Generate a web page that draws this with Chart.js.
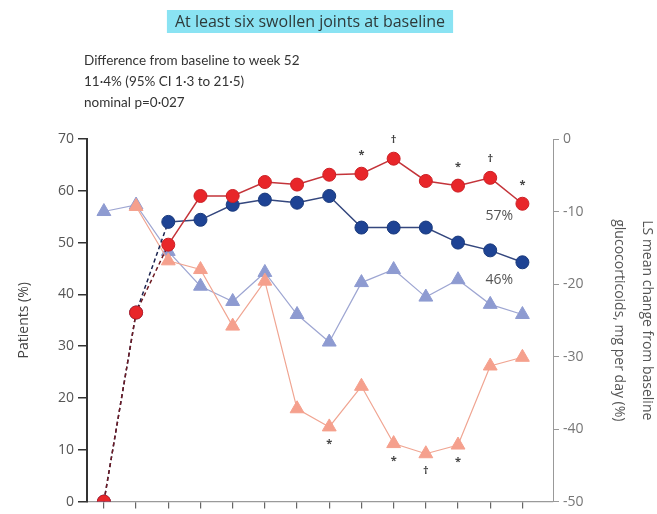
<!DOCTYPE html>
<html><head><meta charset="utf-8">
<style>html,body{margin:0;padding:0;background:#fff}#wrap{width:657px;height:514px;position:relative}</style>
<script src="https://cdn.jsdelivr.net/npm/chart.js@4.4.1/dist/chart.umd.min.js"></script>
</head><body><div id="wrap"><canvas id="c" width="657" height="514"></canvas></div>
<script>
const weeks = [0,4,8,12,16,20,24,28,32,36,40,44,48,52];
const redCircles = [0,36.5,49.6,59,59,61.7,61.2,63.1,63.3,66.2,61.9,61,62.5,57.5];
const blueCircles = [0,36.5,54,54.4,57.3,58.3,57.7,59,52.9,52.9,52.9,50,48.5,46.2];
const blueTriangles = [-10,-9.1,-15.5,-20.3,-22.4,-18.4,-24.2,-28,-19.8,-18,-21.8,-19.4,-22.8,-24.2];
const pinkTriangles = [null,-9.3,-16.8,-18,-25.8,-19.6,-37.2,-39.7,-34.1,-42,-43.4,-42.2,-31.3,-30.1];
const leftTicks = [0,10,20,30,40,50,60,70];
const rightTicks = [0,-10,-20,-30,-40,-50];
const redMarks = ['','','','','','','','','*','†','','*','†','*'];
const pinkMarks = ['','','','','','','','*','','*','†','*','',''];
const endLabels = ['57%','46%'];
const titleText = 'At least six swollen joints at baseline';
const subtitleLines = ['Difference from baseline to week 52','11·4% (95% CI 1·3 to 21·5)','nominal p=0·027'];
const leftAxisTitle = 'Patients (%)';
const rightAxisTitle = ['LS mean change from baseline','glucocorticoids, mg per day (%)'];

const FONT = '"Open Sans", "Liberation Sans", sans-serif';
const SUBFONT = 'Lato, "Open Sans", sans-serif';
const toXY = arr => arr.map((v,i) => ({x: weeks[i], y: v}));

const overlay = {
  id: 'overlay',
  afterDatasetsDraw(chart) {
    const {ctx, scales: {x, y, y2}} = chart;
    ctx.save();
    // header title with highlight
    ctx.font = '16px ' + FONT;
    const tw = ctx.measureText(titleText).width;
    const cx = 310;
    ctx.fillStyle = '#8ae3f3';
    ctx.fillRect(cx - tw/2 - 8, 10, tw + 16, 23);
    ctx.fillStyle = '#2e3a3a';
    ctx.textAlign = 'center';
    ctx.textBaseline = 'middle';
    ctx.fillText(titleText, cx, 22);
    // subtitle
    ctx.font = '13.5px ' + SUBFONT;
    ctx.fillStyle = '#333';
    ctx.textAlign = 'left';
    subtitleLines.forEach((t, i) => ctx.fillText(t, 84, 61 + i * 21));
    // significance marks
    ctx.font = 'bold 11px ' + FONT;
    ctx.fillStyle = '#444';
    ctx.textAlign = 'center';
    weeks.forEach((w, i) => {
      if (redMarks[i]) ctx.fillText(redMarks[i], x.getPixelForValue(w), y.getPixelForValue(redCircles[i]) - 19);
      if (pinkMarks[i]) ctx.fillText(pinkMarks[i], x.getPixelForValue(w), y2.getPixelForValue(pinkTriangles[i]) + 17);
    });
    // end labels
    ctx.font = '14px ' + FONT;
    ctx.fillStyle = '#555';
    const lx = x.getPixelForValue(weeks[12]) + 9;
    ctx.fillText(endLabels[0], lx, y.getPixelForValue(redCircles[13]) + 12);
    ctx.fillText(endLabels[1], lx, y.getPixelForValue(blueCircles[13]) + 18);
    ctx.restore();
  }
};

new Chart(document.getElementById('c'), {
  type: 'line',
  data: {
    datasets: [
      {
        data: toXY(redCircles), yAxisID: 'y', order: 0,
        borderColor: '#c4343a', borderWidth: 1.5,
        pointRadius: 6.5, pointBackgroundColor: '#e8262a', pointBorderColor: '#cc1f24', pointBorderWidth: 1,
        segment: {
          borderDash: c => c.p0DataIndex < 2 ? [4, 3] : undefined,
          borderColor: c => c.p0DataIndex < 2 ? '#6e1a22' : undefined
        }
      },
      {
        data: toXY(blueCircles), yAxisID: 'y', order: 1,
        borderColor: '#34477e', borderWidth: 1.5,
        pointRadius: 6.5, pointBackgroundColor: '#1e4394', pointBorderColor: '#1a3a7c', pointBorderWidth: 1,
        segment: {
          borderDash: c => c.p0DataIndex < 2 ? [4, 3] : undefined,
          borderColor: c => c.p0DataIndex < 2 ? '#1c2450' : undefined
        }
      },
      {
        data: toXY(pinkTriangles), yAxisID: 'y2', order: 2,
        borderColor: '#f0a592', borderWidth: 1.2,
        pointStyle: 'triangle', pointRadius: 8, pointBackgroundColor: '#f5a08d', pointBorderColor: '#f5a08d', pointBorderWidth: 1
      },
      {
        data: toXY(blueTriangles), yAxisID: 'y2', order: 3,
        borderColor: '#9ea6d2', borderWidth: 1.2,
        pointStyle: 'triangle', pointRadius: 8, pointBackgroundColor: '#8e9bd1', pointBorderColor: '#8e9bd1', pointBorderWidth: 1
      }
    ]
  },
  options: {
    responsive: false,
    animation: false,
    devicePixelRatio: 1,
    layout: {padding: {top: 139, bottom: 2, left: 0, right: 0}},
    plugins: {legend: {display: false}, tooltip: {enabled: false}},
    scales: {
      x: {
        type: 'linear', position: 'bottom', min: -2.1, max: 55.8,
        afterBuildTicks: s => { s.ticks = weeks.map(v => ({value: v})); },
        ticks: {display: false},
        grid: {drawOnChartArea: false, drawTicks: true, tickLength: 7, color: '#666', lineWidth: 1.2},
        border: {color: '#9a9a9a', width: 1.2}
      },
      y: {
        position: 'left', min: 0, max: 70,
        afterBuildTicks: s => { s.ticks = leftTicks.map(v => ({value: v})); },
        ticks: {color: '#555', font: {family: FONT, size: 14}, padding: 4},
        grid: {drawOnChartArea: false, drawTicks: true, tickLength: 9, color: '#333', lineWidth: 1.5},
        border: {color: '#333', width: 2},
        title: {display: true, text: leftAxisTitle, color: '#444', font: {family: FONT, size: 14}, padding: {top: 16, bottom: 0}},
        afterFit: s => { s.width = 87; }
      },
      y2: {
        position: 'right', min: -50, max: 0,
        afterBuildTicks: s => { s.ticks = rightTicks.map(v => ({value: v})); },
        ticks: {color: '#777', font: {family: FONT, size: 14}, padding: 4},
        grid: {drawOnChartArea: false, drawTicks: true, tickLength: 6, color: '#999', lineWidth: 1},
        border: {color: '#999', width: 1},
        title: {display: true, text: rightAxisTitle, color: '#555', font: {family: FONT, size: 14, lineHeight: 2}, padding: {top: -4, bottom: 0}},
        afterFit: s => { s.width = 104; }
      }
    }
  },
  plugins: [overlay]
});
</script>
</body></html>
